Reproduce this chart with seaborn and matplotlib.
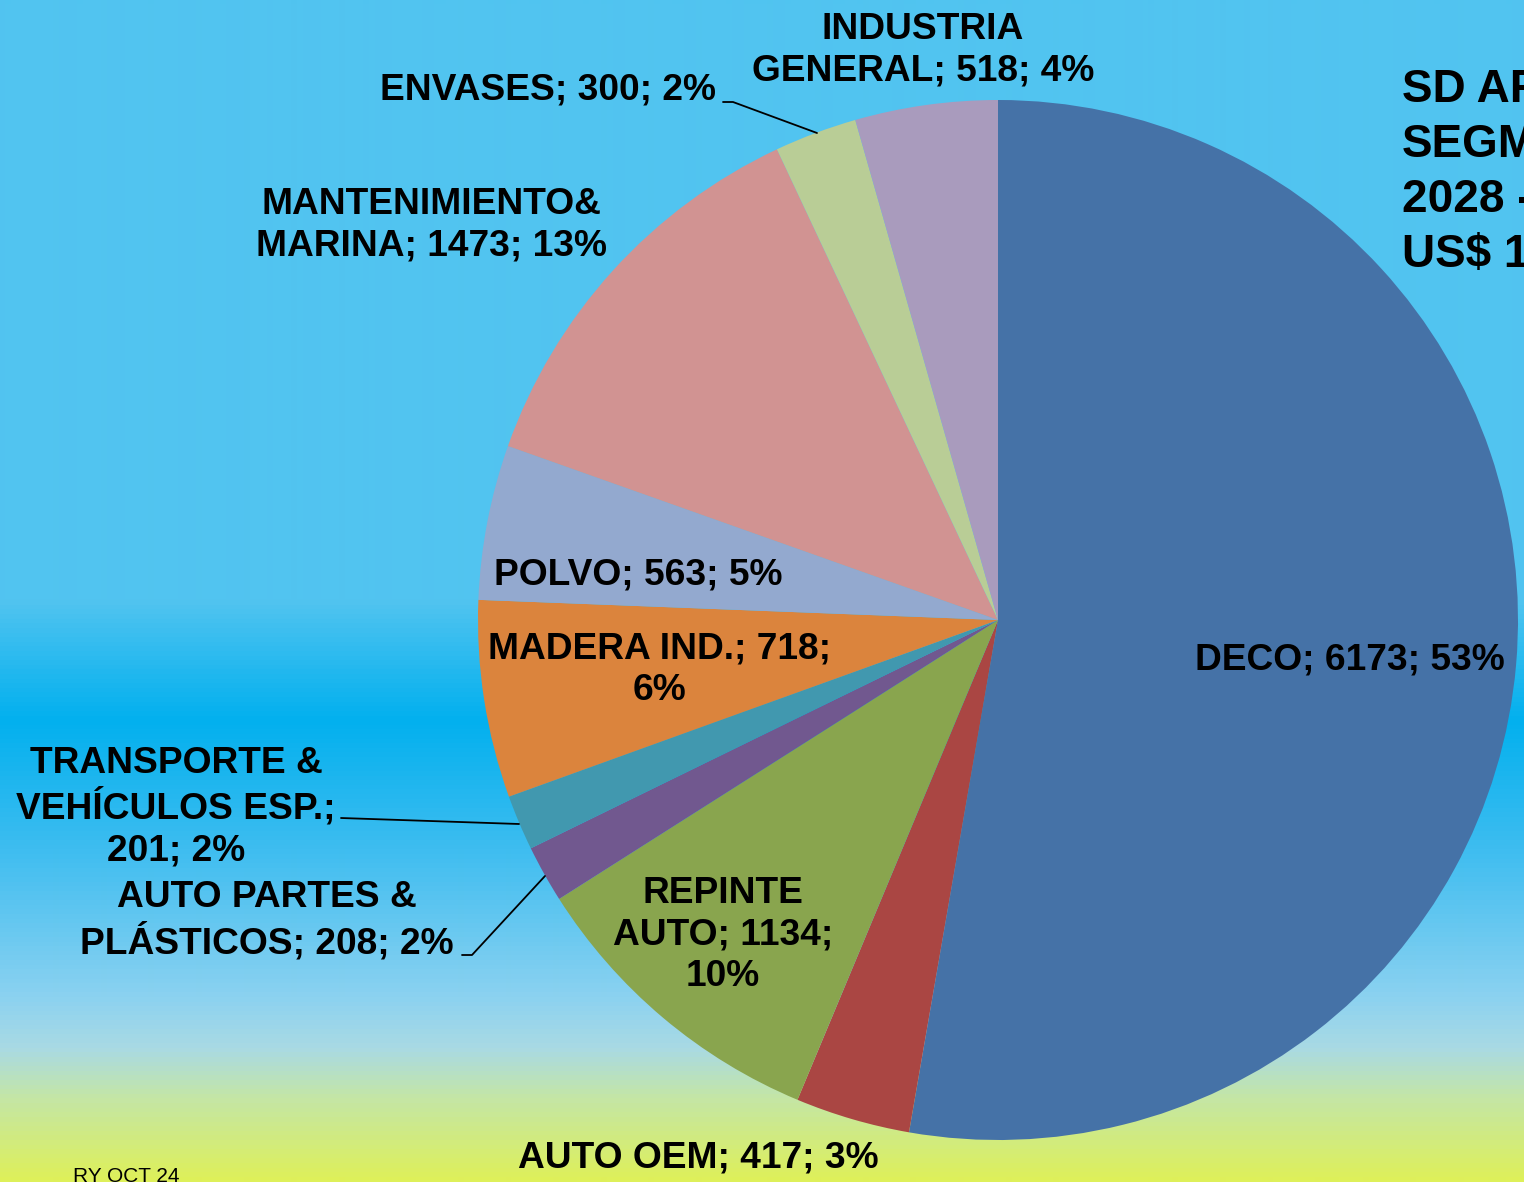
import numpy as np
import matplotlib
matplotlib.use("Agg")
import matplotlib.pyplot as plt
from matplotlib.colors import LinearSegmentedColormap
import seaborn as sns

# ---------------- data ----------------
segments = ["DECO", "AUTO OEM", "REPINTE AUTO", "AUTO PARTES & PLÁSTICOS",
            "TRANSPORTE & VEHÍCULOS ESP.", "MADERA IND.", "POLVO",
            "MANTENIMIENTO& MARINA", "ENVASES", "INDUSTRIA GENERAL"]
values = [6173, 417, 1134, 208, 201, 718, 563, 1473, 300, 518]
label_texts = [
    "DECO; 6173; 53%",
    "AUTO OEM; 417; 3%",
    "REPINTE\nAUTO; 1134;\n10%",
    "AUTO PARTES &\nPLÁSTICOS; 208; 2%",
    "TRANSPORTE &\nVEHÍCULOS ESP.;\n201; 2%",
    "MADERA IND.; 718;\n6%",
    "POLVO; 563; 5%",
    "MANTENIMIENTO&\nMARINA; 1473; 13%",
    "ENVASES; 300; 2%",
    "INDUSTRIA\nGENERAL; 518; 4%",
]
slice_colors = ["#4572A7", "#AA4643", "#89A54E", "#71588F", "#4198AF",
                "#DB843D", "#93A9CF", "#D19392", "#B9CD96", "#A99BBD"]
title_lines = ["SD AR", "SEGM", "2028 -", "US$ 1"]
footer = "RY OCT 24"

# ---------------- style ----------------
sns.set_theme(style="white")
plt.rcParams["font.family"] = ["Liberation Sans", "DejaVu Sans"]
palette = sns.color_palette(slice_colors)

W, H = 1524, 1182
fig = plt.figure(figsize=(W / 100, H / 100), dpi=100)
ax = fig.add_axes([0, 0, 1, 1])

def Y(py):
    return H - py

# background gradient (pixel rows from top)
stops = [(0, "#51C4F0"), (600, "#52C4F0"), (720, "#02B0EE"), (850, "#3EBDF0"),
         (1000, "#8CD2F0"), (1050, "#A9DAE4"), (1100, "#C4E6A6"), (1182, "#DEF05A")]
cmap = LinearSegmentedColormap.from_list("bg", [(p / H, c) for p, c in stops])
grad = np.linspace(0, 1, H).reshape(-1, 1)
ax.imshow(grad, cmap=cmap, extent=[0, W, 0, H], origin="upper",
          aspect="auto", zorder=0, interpolation="bilinear")

# pie
cx, cy, r = 998, 620, 520
ax.pie(values, colors=palette, startangle=90, counterclock=False,
       center=(cx, Y(cy)), radius=r, wedgeprops=dict(linewidth=0),
       frame=True)

ax.set_xlim(0, W)
ax.set_ylim(0, H)
ax.set_aspect("equal")
ax.axis("off")

# label positions (pixel coords of text centre)
label_pos = [(1350, 660), (698, 1158), (723, 935), (267, 921), (176, 807),
             (660, 670), (638, 575), (431, 225), (548, 90), (923, 50)]
for txt, (px, py) in zip(label_texts, label_pos):
    ax.text(px, Y(py), txt, ha="center", va="center", fontsize=26.7,
            fontweight="bold", color="black", linespacing=1.25, zorder=5)

# leader lines
leaders = [
    [(723, 102), (733, 102), (817, 133)],
    [(341, 818), (519, 824)],
    [(462, 955), (472, 955), (545, 876)],
]
for pts in leaders:
    xs = [p[0] for p in pts]
    ys = [Y(p[1]) for p in pts]
    ax.plot(xs, ys, color="black", lw=1.3, zorder=4)

# title (cut off at the right edge, as in the reference)
for i, line in enumerate(title_lines):
    ax.text(1402, Y(90 + i * 55), line, ha="left", va="center", fontsize=33,
            fontweight="bold", color="black", zorder=5)

ax.text(73, Y(1167), footer, ha="left", va="top", fontsize=15, color="black",
        zorder=5)

fig.savefig("out.png", dpi=100)
